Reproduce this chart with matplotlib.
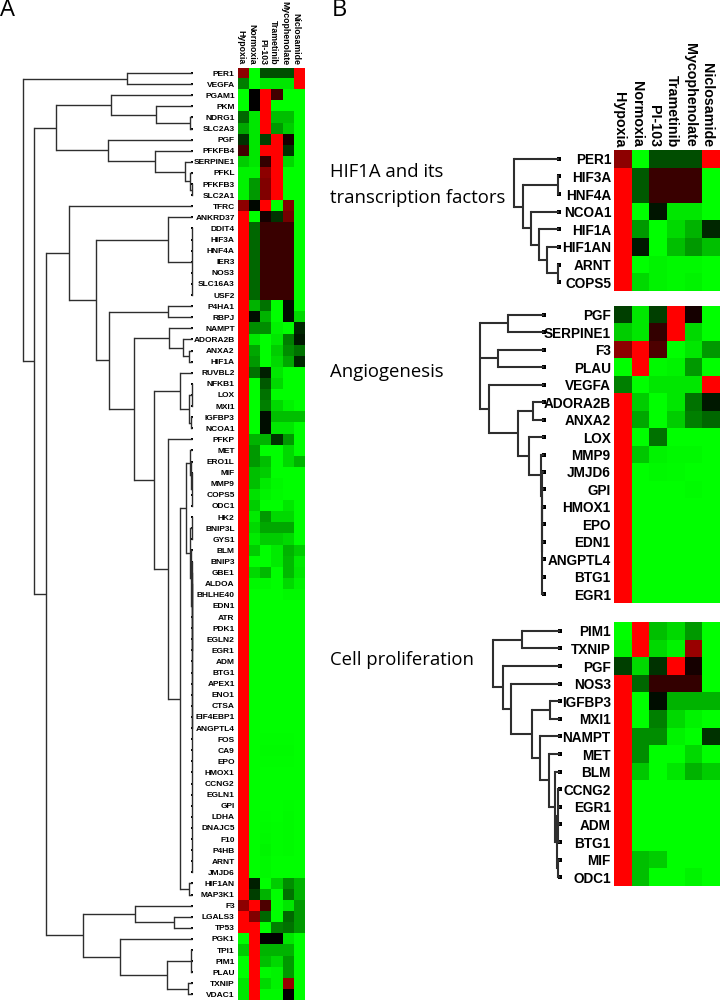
import matplotlib
matplotlib.use("Agg")
import matplotlib.pyplot as plt
from matplotlib.colors import LinearSegmentedColormap
from matplotlib.transforms import ScaledTranslation

W, H = 720, 1000
LABEL_FONT = ["Liberation Sans"]
TEXT_FONT = ["Open Sans", "DejaVu Sans"]
LINE_COLOR = "#2e2e2e"

conditions = ["Hypoxia", "Normoxia", "PI-103", "Trametinib", "Mycophenolate", "Niclosamide"]

# panel A, top to bottom
genes_a = ["PER1", "VEGFA", "PGAM1", "PKM", "NDRG1", "SLC2A3", "PGF", "PFKFB4", "SERPINE1", "PFKL",
           "PFKFB3", "SLC2A1", "TFRC", "ANKRD37", "DDIT4", "HIF3A", "HNF4A", "IER3", "NOS3", "SLC16A3",
           "USF2", "P4HA1", "RBPJ", "NAMPT", "ADORA2B", "ANXA2", "HIF1A", "RUVBL2", "NFKB1", "LOX",
           "MXI1", "IGFBP3", "NCOA1", "PFKP", "MET", "ERO1L", "MIF", "MMP9", "COPS5", "ODC1",
           "HK2", "BNIP3L", "GYS1", "BLM", "BNIP3", "GBE1", "ALDOA", "BHLHE40", "EDN1", "ATR",
           "PDK1", "EGLN2", "EGR1", "ADM", "BTG1", "APEX1", "ENO1", "CTSA", "EIF4EBP1", "ANGPTL4",
           "FOS", "CA9", "EPO", "HMOX1", "CCNG2", "EGLN1", "GPI", "LDHA", "DNAJC5", "F10",
           "P4HB", "ARNT", "JMJD6", "HIF1AN", "MAP3K1", "F3", "LGALS3", "TP53", "PGK1", "TPI1",
           "PIM1", "PLAU", "TXNIP", "VDAC1"]

# -1 green, 0 black, +1 red
heat_a = [
    [.55, -1, -.3, -.3, -.3, 1], [-.5, -1, -.9, -.9, -.9, 1], [-1, 0, 1, .25, -1, -1],
    [-1, 0, 1, -1, -1, -1], [-.4, -.9, 1, -.75, -.75, -1], [-.65, -.9, 1, -.6, -.8, -1],
    [-.2, -.9, -.25, 1, .08, -1], [.25, -.9, 1, 1, -.2, -1], [-.8, -.9, .2, 1, -.85, -1],
    [-.95, -.95, .55, 1, -1, -1], [-.95, -.6, .5, 1, -1, -1], [-.95, -.6, .5, 1, -1, -1],
    [.55, -.03, 1, -1, .5, -1], [1, -1, .08, -.2, .45, -1], [1, -.4, .22, .22, .22, -1],
    [1, -.4, .22, .22, .22, -1], [1, -.4, .22, .22, .22, -1], [1, -.4, .22, .22, .22, -1],
    [1, -.4, .22, .22, .22, -1], [1, -.4, .22, .22, .22, -1], [1, -.4, .22, .22, .22, -1],
    [1, -.7, -.45, -1, -.05, -1], [1, -.05, -.7, -1, -.05, -.85], [1, -.55, -.55, -.95, -1, -.15],
    [1, -.9, -1, -.9, -.5, -.1], [1, -.65, -1, -.8, -.55, -.45], [1, -.6, -1, -.85, -.65, -.15],
    [1, -.45, -.12, -.9, -1, -1], [1, -1, -.35, -.85, -1, -1], [1, -1, -.45, -1, -1, -1],
    [1, -1, -.5, -.85, -.95, -1], [1, -1, -.05, -.75, -.75, -.75], [1, -1, -.05, -.9, -.9, -1],
    [1, -.7, -.7, -.2, -.6, -1], [1, -.6, -1, -1, -.85, -1], [1, -.6, -.75, -1, -.85, -.7],
    [1, -.75, -.8, -1, -1, -1], [1, -.75, -.92, -.97, -1, -1], [1, -.88, -.95, -.98, -1, -1],
    [1, -.8, -1, -1, -.9, -1], [1, -.92, -.6, -.85, -.85, -1], [1, -.85, -.65, -.65, -.65, -1],
    [1, -.92, -.8, -.8, -.85, -1], [1, -.8, -1, -.92, -.7, -.8], [1, -1, -1, -.92, -.72, -.92],
    [1, -.85, -.72, -1, -.72, -.9], [1, -.97, -.97, -1, -.85, -.95], [1, -1, -1, -1, -.97, -.97],
    [1, -1, -1, -1, -1, -1], [1, -1, -1, -1, -1, -1], [1, -1, -1, -1, -1, -1],
    [1, -1, -1, -1, -1, -1], [1, -1, -1, -1, -1, -1], [1, -1, -1, -1, -1, -1],
    [1, -1, -1, -1, -1, -1], [1, -1, -1, -1, -1, -1], [1, -1, -1, -1, -1, -1],
    [1, -1, -1, -1, -1, -1], [1, -1, -1, -1, -1, -1], [1, -1, -1, -1, -1, -1],
    [1, -1, -.99, -.99, -.99, -1], [1, -1, -.98, -.98, -.98, -1], [1, -1, -.99, -.99, -.99, -1],
    [1, -1, -1, -1, -1, -1], [1, -1, -1, -1, -1, -1], [1, -1, -1, -1, -1, -1],
    [1, -1, -1, -1, -.99, -1], [1, -1, -.99, -1, -.98, -1], [1, -1, -.98, -.99, -.98, -1],
    [1, -1, -.97, -.99, -.98, -1], [1, -1, -.96, -.99, -.98, -1], [1, -1, -.97, -1, -1, -1],
    [1, -1, -.97, -1, -1, -1], [1, -.12, -1, -.8, -.55, -.7], [1, -.25, -.7, -1, -.45, -.7],
    [.55, 1, .3, -1, -.9, -.6], [1, .5, -.4, -1, -.4, -.6], [1, 1, -1, -.5, -.45, -.6],
    [-1, 1, 0, 0, -.9, -1], [-.8, 1, -.7, -.7, -.7, -1], [-1, 1, -.75, -.85, -.6, -1],
    [-1, 1, -.97, -.95, -.6, -1], [-.9, 1, -.85, -.95, .6, -1], [-.9, 1, -.97, -.97, 0, -1],
]

# merge points: [position, child, child, ...]
tree_a = [23,
          [127, "PER1", "VEGFA"],
          [34,
           [56,
            [111, "PGAM1", [156, "PKM", [190, "NDRG1", "SLC2A3"]]],
            [108, "PGF", [155, "PFKFB4", [185, "SERPINE1", [190, "PFKL", [191.5, "PFKFB3", "SLC2A1"]]]]]],
           [46,
            [69, "TFRC",
             [96,
              [168, "ANKRD37", [192, "DDIT4", "HIF3A", "HNF4A", "IER3", "NOS3", "SLC16A3", "USF2"]],
              [109,
               [168, "P4HA1", "RBPJ"],
               [134,
                [169, "NAMPT", [183, "ADORA2B", [189, "ANXA2", "HIF1A"]]],
                [154,
                 [180, "RUVBL2", [189, [191.5, "NFKB1", "LOX", "MXI1"], [191, "IGFBP3", "NCOA1"]]],
                 [168, "PFKP",
                  [180,
                   [186,
                    [189.5, "MET", [190.5, "ERO1L", [191.5, "MIF", "MMP9", "COPS5", "ODC1"]]],
                    [190,
                     [191.5, "HK2", "BNIP3L", "GYS1"],
                     [191, "BLM", [191.5, "BNIP3", [192, "GBE1", [192] + genes_a[46:73]]]]]],
                   [188.5, "HIF1AN", "MAP3K1"]]]]]]]],
            [82.5,
             [134.5, "F3", [174, "LGALS3", "TP53"]],
             [119.5, "PGK1",
              [166.5, [191, "TPI1", "PIM1", "PLAU"], [188, "TXNIP", "VDAC1"]]]]]]]

# panel B groups
genes_b1 = ["PER1", "HIF3A", "HNF4A", "NCOA1", "HIF1A", "HIF1AN", "ARNT", "COPS5"]
heat_b1 = [
    [.55, -1, -.3, -.3, -.3, 1], [1, -.35, .22, .22, .22, -1], [1, -.35, .22, .22, .22, -1],
    [1, -1, -.08, -.9, -.9, -1], [1, -.6, -1, -.85, -.7, -.15], [1, -.1, -1, -.75, -.6, -.75],
    [1, -1, -.95, -.97, -.97, -1], [1, -.85, -.95, -.97, -.95, -1],
]
tree_b1 = [514, "PER1",
           [523, [558, "HIF3A", "HNF4A"],
            [531, "NCOA1",
             [538.5, "HIF1A", [546.5, "HIF1AN", [558, "ARNT", "COPS5"]]]]]]

genes_b2 = ["PGF", "SERPINE1", "F3", "PLAU", "VEGFA", "ADORA2B", "ANXA2", "LOX", "MMP9", "JMJD6",
            "GPI", "HMOX1", "EPO", "EDN1", "ANGPTL4", "BTG1", "EGR1"]
heat_b2 = [
    [-.25, -.9, -.25, 1, .08, -1], [-.8, -.9, .2, 1, -.85, -1], [.55, 1, .3, -1, -.9, -.6],
    [-1, 1, -.97, -.95, -.6, -1], [-.5, -1, -.9, -.9, -.9, 1], [1, -.8, -1, -.9, -.45, -.1],
    [1, -.65, -1, -.8, -.5, -.4], [1, -1, -.45, -1, -1, -1], [1, -.78, -.95, -.97, -.97, -1],
    [1, -1, -.97, -.98, -1, -1], [1, -1, -1, -1, -.98, -1], [1, -1, -1, -1, -1, -1],
    [1, -1, -1, -1, -1, -1], [1, -1, -1, -1, -1, -1], [1, -1, -1, -1, -1, -1],
    [1, -1, -1, -1, -1, -1], [1, -1, -1, -1, -1, -1],
]
tree_b2 = [480,
           [508, "PGF", "SERPINE1"],
           [498, "F3", "PLAU"],
           [489, "VEGFA",
            [518, [533, "ADORA2B", "ANXA2"],
             [529, "LOX",
              [541, "MMP9", [541.5, "JMJD6", [541.5, "GPI",
                                              [542, "HMOX1", "EPO", "EDN1", "ANGPTL4", "BTG1", "EGR1"]]]]]]]]

genes_b3 = ["PIM1", "TXNIP", "PGF", "NOS3", "IGFBP3", "MXI1", "NAMPT", "MET", "BLM", "CCNG2",
            "EGR1", "ADM", "BTG1", "MIF", "ODC1"]
heat_b3 = [
    [-1, 1, -.75, -.85, -.6, -1], [-.95, 1, -.85, -.95, .6, -1], [-.25, -.85, -.2, 1, .08, -1],
    [1, -.4, .2, .2, .2, -1], [1, -1, -.05, -.7, -.7, -.7], [1, -1, -.5, -.85, -.95, -1],
    [1, -.55, -.55, -.95, -1, -.2], [1, -.55, -1, -1, -.85, -1], [1, -.78, -1, -.9, -.7, -.8],
    [1, -1, -1, -1, -1, -1], [1, -1, -1, -1, -1, -1], [1, -1, -1, -1, -1, -1],
    [1, -1, -1, -1, -1, -1], [1, -.75, -.8, -1, -1, -1], [1, -.75, -1, -1, -.95, -1],
]
tree_b3 = [493, [522, "PIM1", "TXNIP"],
           [503, "PGF",
            [511, "NOS3",
             [532, [550, "IGFBP3", "MXI1"],
              [539.5, "NAMPT",
               [549, "MET",
                [555, "BLM",
                 [557, [558, "CCNG2", "EGR1", "ADM", "BTG1"], [558, "MIF", "ODC1"]]]]]]]]]

green_red = LinearSegmentedColormap.from_list("gbr", ["#00ff00", "#000000", "#ff0000"])


def px_axes(fig, left, top, right, bottom):
    return fig.add_axes([left / W, 1 - bottom / H, (right - left) / W, (bottom - top) / H])


def draw_tree(ax, node, genes, tip, lw, dot):
    # returns where the node sits, draws everything under it
    if isinstance(node, str):
        y = genes.index(node) + 0.5
        ax.plot([tip], [y], "s", ms=dot, color="black", mew=0)
        return tip, y
    x = node[0]
    kids = [draw_tree(ax, kid, genes, tip, lw, dot) for kid in node[1:]]
    for kx, ky in kids:
        ax.plot([x, kx], [ky, ky], color=LINE_COLOR, lw=lw, solid_capstyle="butt")
    ax.plot([x, x], [kids[0][1], kids[-1][1]], color=LINE_COLOR, lw=lw, solid_capstyle="projecting")
    return x, (kids[0][1] + kids[-1][1]) / 2


def draw_panel(fig, genes, heat, tree, box, tree_left, tip, gene_px, col_px=None, col_shift=0, lw=1.0, dot=1.5):
    left, top, right, bottom = box
    ax = px_axes(fig, left, top, right, bottom)
    ax.imshow(heat, cmap=green_red, vmin=-1, vmax=1, aspect="auto", interpolation="nearest")
    ax.set_yticks(range(len(genes)), labels=genes, fontsize=gene_px * 0.72, fontweight="bold", family=LABEL_FONT)
    ax.tick_params(axis="y", length=0, pad=2)
    ax.xaxis.tick_top()
    if col_px:
        ax.set_xticks(range(len(conditions)), labels=conditions, fontsize=col_px * 0.72, fontweight="bold",
                      family=LABEL_FONT, rotation=270, ha="center", va="bottom")
        ax.tick_params(axis="x", length=0, pad=2)
        # the column names sit a little left of their columns
        shift = ScaledTranslation(col_shift / 100, 0, fig.dpi_scale_trans)
        for lab in ax.get_xticklabels():
            lab.set_transform(lab.get_transform() + shift)
    else:
        ax.set_xticks([])
    for s in ax.spines.values():
        s.set_visible(False)

    t_ax = px_axes(fig, tree_left, top, left, bottom)
    t_ax.set_xlim(tree_left, left)
    t_ax.set_ylim(len(genes), 0)
    t_ax.axis("off")
    t_ax.patch.set_alpha(0)
    draw_tree(t_ax, tree, genes, tip, lw, dot)


fig = plt.figure(figsize=(W / 100, H / 100), dpi=100)

draw_panel(fig, genes_a, heat_a, tree_a, (237.5, 67.5, 304, 1000), 0, 192, 8.4, col_px=8.8, col_shift=-2.5)
draw_panel(fig, genes_b1, heat_b1, tree_b1, (614, 150, 720, 291), 440, 559, 13.6, col_px=14.2, col_shift=-4,
           lw=1.5, dot=2.5)
draw_panel(fig, genes_b2, heat_b2, tree_b2, (613.5, 306, 719.5, 603), 440, 544, 13.6, lw=1.5, dot=2.5)
draw_panel(fig, genes_b3, heat_b3, tree_b3, (613.5, 622, 719.5, 886), 440, 560, 13.6, lw=1.5, dot=2.5)

fig.text(0 / W, 1 - 16 / H, "A", fontsize=17, family=TEXT_FONT)
fig.text(332 / W, 1 - 16 / H, "B", fontsize=17, family=TEXT_FONT)
fig.text(330 / W, 1 - 177 / H, "HIF1A and its", fontsize=13.3, family=TEXT_FONT)
fig.text(330 / W, 1 - 203 / H, "transcription factors", fontsize=13.3, family=TEXT_FONT)
fig.text(330 / W, 1 - 377 / H, "Angiogenesis", fontsize=13.3, family=TEXT_FONT)
fig.text(330 / W, 1 - 665 / H, "Cell proliferation", fontsize=13.3, family=TEXT_FONT)

fig.savefig("out.png", dpi=100, facecolor="white")
